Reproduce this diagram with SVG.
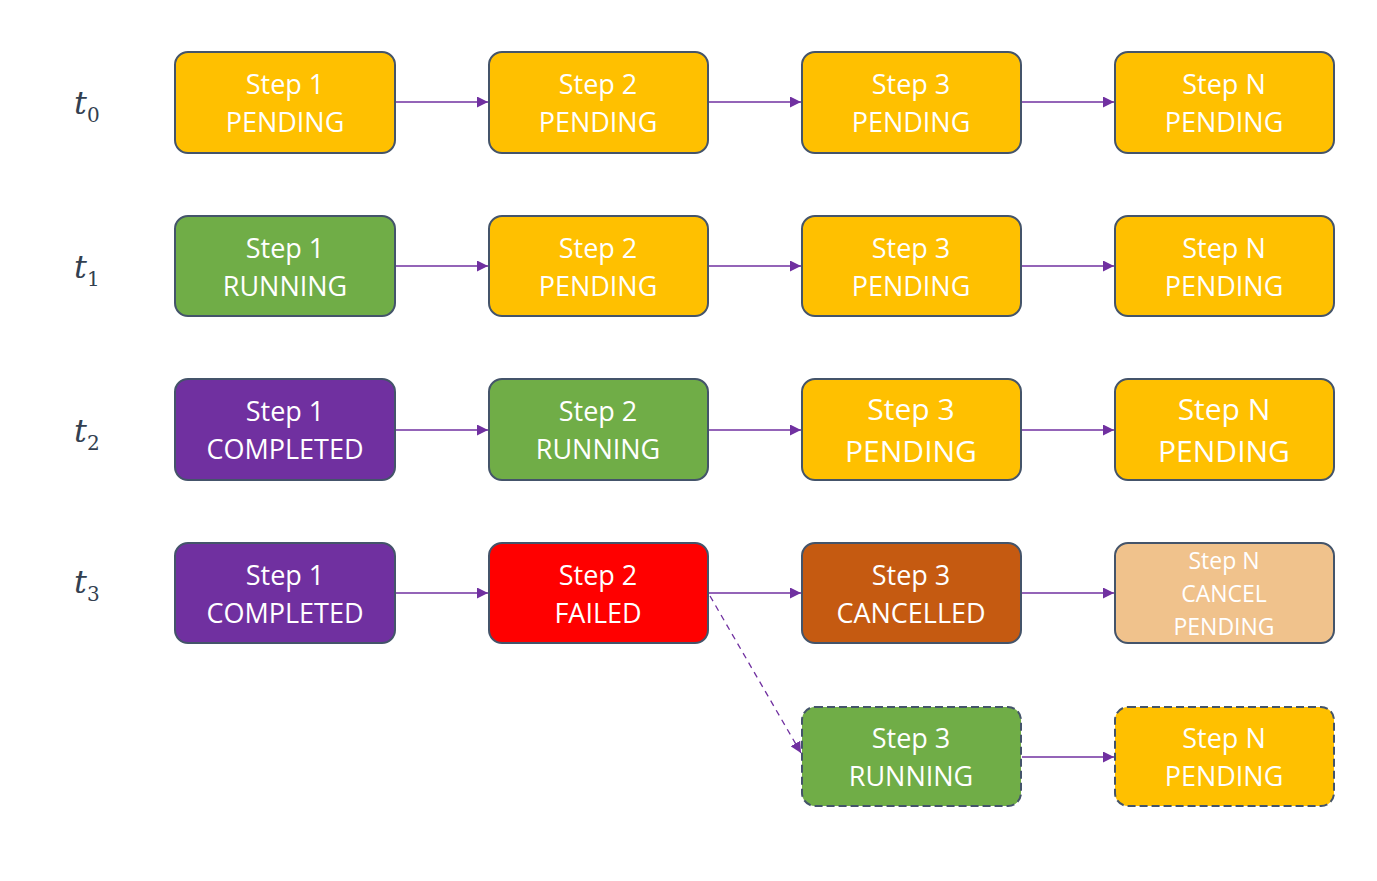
<svg xmlns="http://www.w3.org/2000/svg" width="1377" height="881" viewBox="0 0 1377 881">
<style>
.box{stroke:#44546A;stroke-width:2}
.dash{stroke-dasharray:8 4}
.y{fill:#FFC000}.g{fill:#70AD47}.p{fill:#7030A0}.r{fill:#FF0000}.o{fill:#C55A11}.l{fill:#F0C28C}
.t{font-family:"Open Sans","Noto Sans",sans-serif;font-size:27px;fill:#FFFFFF;text-anchor:middle}
.lt{font-weight:400}
.big{font-size:30px}
.sm{font-size:23px}
.lab{font-family:"DejaVu Serif","Liberation Serif",serif;font-style:italic;font-size:32px;fill:#333F50}
.sub{font-family:"DejaVu Serif","Liberation Serif",serif;font-size:20px;fill:#333F50}
.c{stroke:#7030A0;stroke-width:1.3;fill:none;marker-end:url(#ah)}
</style>
<defs>
<marker id="ah" viewBox="0 0 10 10" refX="10" refY="5" markerWidth="11" markerHeight="11" markerUnits="userSpaceOnUse" orient="auto">
<path d="M0,0 L10,5 L0,10 z" fill="#7030A0"/>
</marker>
</defs>
<rect width="1377" height="881" fill="#FFFFFF"/>
<g id="labels">
<text class="lab" x="74" y="114">t</text><text class="sub" x="87" y="122">0</text>
<text class="lab" x="74" y="278">t</text><text class="sub" x="87" y="286">1</text>
<text class="lab" x="74" y="442">t</text><text class="sub" x="87" y="450">2</text>
<text class="lab" x="74" y="593">t</text><text class="sub" x="87" y="601">3</text>
</g>
<g id="connectors">
<line class="c" x1="396" y1="102" x2="488" y2="102"/>
<line class="c" x1="709" y1="102" x2="801" y2="102"/>
<line class="c" x1="1022" y1="102" x2="1114" y2="102"/>
<line class="c" x1="396" y1="266" x2="488" y2="266"/>
<line class="c" x1="709" y1="266" x2="801" y2="266"/>
<line class="c" x1="1022" y1="266" x2="1114" y2="266"/>
<line class="c" x1="396" y1="430" x2="488" y2="430"/>
<line class="c" x1="709" y1="430" x2="801" y2="430"/>
<line class="c" x1="1022" y1="430" x2="1114" y2="430"/>
<line class="c" x1="396" y1="593" x2="488" y2="593"/>
<line class="c" x1="709" y1="593" x2="801" y2="593"/>
<line class="c" x1="1022" y1="593" x2="1114" y2="593"/>
<line class="c" x1="1022" y1="757" x2="1114" y2="757"/>
<line class="c" x1="710" y1="596" x2="801" y2="753" stroke-dasharray="6 5"/>
</g>
<g id="r0c1"><rect class="box y" x="175" y="52" width="220" height="101" rx="13"/><text class="t lt" x="285" y="94">Step 1</text><text class="t lt" x="285" y="132">PENDING</text></g>
<g id="r0c2"><rect class="box y" x="489" y="52" width="219" height="101" rx="13"/><text class="t lt" x="598" y="94">Step 2</text><text class="t lt" x="598" y="132">PENDING</text></g>
<g id="r0c3"><rect class="box y" x="802" y="52" width="219" height="101" rx="13"/><text class="t lt" x="911" y="94">Step 3</text><text class="t lt" x="911" y="132">PENDING</text></g>
<g id="r0c4"><rect class="box y" x="1115" y="52" width="219" height="101" rx="13"/><text class="t lt" x="1224" y="94">Step N</text><text class="t lt" x="1224" y="132">PENDING</text></g>

<g id="r1c1"><rect class="box g" x="175" y="216" width="220" height="100" rx="13"/><text class="t" x="285" y="258">Step 1</text><text class="t" x="285" y="296">RUNNING</text></g>
<g id="r1c2"><rect class="box y" x="489" y="216" width="219" height="100" rx="13"/><text class="t lt" x="598" y="258">Step 2</text><text class="t lt" x="598" y="296">PENDING</text></g>
<g id="r1c3"><rect class="box y" x="802" y="216" width="219" height="100" rx="13"/><text class="t lt" x="911" y="258">Step 3</text><text class="t lt" x="911" y="296">PENDING</text></g>
<g id="r1c4"><rect class="box y" x="1115" y="216" width="219" height="100" rx="13"/><text class="t lt" x="1224" y="258">Step N</text><text class="t lt" x="1224" y="296">PENDING</text></g>

<g id="r2c1"><rect class="box p" x="175" y="379" width="220" height="101" rx="13"/><text class="t" x="285" y="421">Step 1</text><text class="t" x="285" y="459">COMPLETED</text></g>
<g id="r2c2"><rect class="box g" x="489" y="379" width="219" height="101" rx="13"/><text class="t" x="598" y="421">Step 2</text><text class="t" x="598" y="459">RUNNING</text></g>
<g id="r2c3"><rect class="box y" x="802" y="379" width="219" height="101" rx="13"/><text class="t lt big" x="911" y="420">Step 3</text><text class="t lt big" x="911" y="462">PENDING</text></g>
<g id="r2c4"><rect class="box y" x="1115" y="379" width="219" height="101" rx="13"/><text class="t lt big" x="1224" y="420">Step N</text><text class="t lt big" x="1224" y="462">PENDING</text></g>

<g id="r3c1"><rect class="box p" x="175" y="543" width="220" height="100" rx="13"/><text class="t" x="285" y="585">Step 1</text><text class="t" x="285" y="623">COMPLETED</text></g>
<g id="r3c2"><rect class="box r" x="489" y="543" width="219" height="100" rx="13"/><text class="t" x="598" y="585">Step 2</text><text class="t" x="598" y="623">FAILED</text></g>
<g id="r3c3"><rect class="box o" x="802" y="543" width="219" height="100" rx="13"/><text class="t" x="911" y="585">Step 3</text><text class="t" x="911" y="623">CANCELLED</text></g>
<g id="r3c4"><rect class="box l" x="1115" y="543" width="219" height="100" rx="13"/><text class="t lt sm" x="1224" y="569">Step N</text><text class="t lt sm" x="1224" y="602">CANCEL</text><text class="t lt sm" x="1224" y="635">PENDING</text></g>

<g id="r4c3"><rect class="box g dash" x="802" y="707" width="219" height="99" rx="13"/><text class="t" x="911" y="748">Step 3</text><text class="t" x="911" y="786">RUNNING</text></g>
<g id="r4c4"><rect class="box y dash" x="1115" y="707" width="219" height="99" rx="13"/><text class="t lt" x="1224" y="748">Step N</text><text class="t lt" x="1224" y="786">PENDING</text></g>
</svg>
